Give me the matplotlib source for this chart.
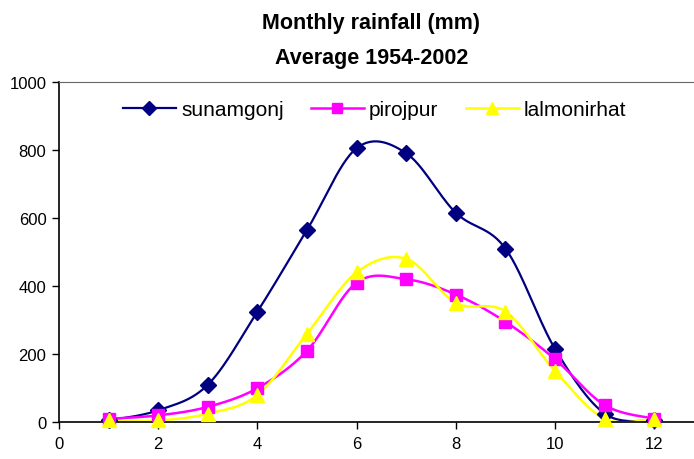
import numpy as np
import matplotlib
matplotlib.use("Agg")
import matplotlib.pyplot as plt
from matplotlib.lines import Line2D

plt.rcParams['font.family'] = ['Liberation Sans', 'DejaVu Sans']

months = [1, 2, 3, 4, 5, 6, 7, 8, 9, 10, 11, 12]
sunamgonj = [5, 35, 110, 325, 565, 805, 790, 615, 510, 215, 25, 5]
pirojpur = [10, 20, 45, 100, 210, 410, 420, 375, 295, 185, 50, 10]
lalmonirhat = [5, 5, 25, 80, 260, 440, 480, 350, 325, 150, 10, 10]

x_ticks = [0, 2, 4, 6, 8, 10, 12]
y_ticks = [0, 200, 400, 600, 800, 1000]


def smooth(xs, ys, n=30):
    """Catmull-Rom style smoothing through the given points (Bezier, tension 1/6)."""
    p = np.column_stack([xs, ys]).astype(float)
    ext = np.vstack([p[0], p, p[-1]])
    out = []
    t = np.linspace(0, 1, n)[:, None]
    for i in range(1, len(ext) - 2):
        p0, p1, p2, p3 = ext[i - 1], ext[i], ext[i + 1], ext[i + 2]
        c1 = p1 + (p2 - p0) / 6.0
        c2 = p2 - (p3 - p1) / 6.0
        seg = ((1 - t) ** 3) * p1 + 3 * ((1 - t) ** 2) * t * c1 + 3 * (1 - t) * t ** 2 * c2 + t ** 3 * p2
        out.append(seg if i == 1 else seg[1:])
    arr = np.vstack(out)
    return arr[:, 0], arr[:, 1]


fig = plt.figure(figsize=(6.94, 4.60), dpi=100)
ax = fig.add_axes([0.085, 0.080, 0.915, 0.740])

series = [
    ("sunamgonj", sunamgonj, "#000080", "D", 8, 1.6),
    ("pirojpur", pirojpur, "#FF00FF", "s", 8, 1.8),
    ("lalmonirhat", lalmonirhat, "#FFFF00", "^", 10, 1.8),
]

handles = []
for name, vals, col, mk, ms, lw in series:
    sx, sy = smooth(months, vals)
    ax.plot(sx, sy, color=col, lw=lw, zorder=2)
    ax.plot(months, vals, ls="none", marker=mk, ms=ms, color=col, mec=col, zorder=3, clip_on=False)
    handles.append(Line2D([0], [0], color=col, lw=lw, marker=mk, ms=ms - 1, mec=col))

ax.set_xlim(0, 12.8)
ax.set_ylim(0, 1000)
ax.set_xticks(x_ticks)
ax.set_yticks(y_ticks)
ax.tick_params(axis="both", direction="out", length=5, width=1, labelsize=12, colors="black")
ax.tick_params(axis="x", pad=5)
ax.tick_params(axis="y", pad=4)
ax.spines["right"].set_visible(False)
ax.spines["top"].set_color("#666666")
ax.spines["left"].set_linewidth(1.2)
ax.spines["bottom"].set_linewidth(1.2)

leg = ax.legend(handles, [s[0] for s in series], loc="center", bbox_to_anchor=(0.497, 0.918),
                ncol=3, frameon=False, fontsize=15, handlelength=2.55, columnspacing=1.3,
                handletextpad=0.25)

fig.text(0.535, 0.950, "Monthly rainfall (mm)", ha="center", va="center",
         fontsize=15.5, fontweight="bold")
fig.text(0.535, 0.873, "Average 1954-2002", ha="center", va="center",
         fontsize=15.5, fontweight="bold")

fig.savefig("out.png", dpi=100)
